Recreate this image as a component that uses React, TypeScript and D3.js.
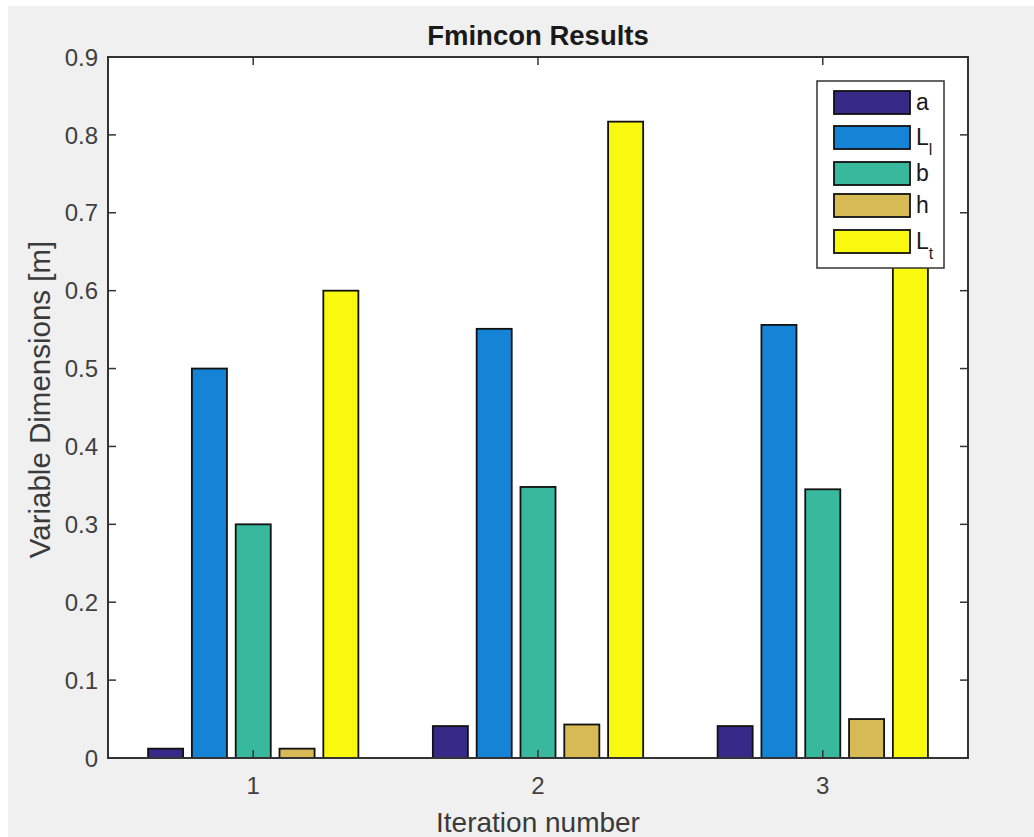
import React, { useEffect, useRef } from "react";
import * as d3 from "d3";

// Iterations (x groups)
const iterations = [1, 2, 3];

// Series names and values per iteration
const seriesNames = ["a", "L_l", "b", "h", "L_t"];
const aValues = [0.012, 0.041, 0.041];
const LlValues = [0.5, 0.551, 0.556];
const bValues = [0.3, 0.348, 0.345];
const hValues = [0.012, 0.043, 0.05];
const LtValues = [0.6, 0.817, 0.78];

const yTicks = [0, 0.1, 0.2, 0.3, 0.4, 0.5, 0.6, 0.7, 0.8, 0.9];
const xTicks = [1, 2, 3];

const seriesColors = ["#352a87", "#1584d6", "#38b89c", "#d8ba55", "#f8f90e"];

const W = 1034;
const H = 837;
const FONT = "'Liberation Sans', Arial, Helvetica, sans-serif";
const AX = "#333333";

export default function App() {
  const ref = useRef<SVGSVGElement | null>(null);

  useEffect(() => {
    const svg = d3.select(ref.current);
    svg.selectAll("*").remove();

    const left = 108;
    const right = 968;
    const top = 57;
    const bottom = 758;

    // figure background
    svg.append("rect").attr("width", W).attr("height", H).attr("fill", "#ffffff");
    svg.append("rect").attr("x", 8).attr("y", 6).attr("width", W - 8).attr("height", H - 6).attr("fill", "#f0f0f0");

    const x = d3.scaleLinear().domain([0.49, 3.51]).range([left, right]);
    const y = d3.scaleLinear().domain([0, 0.9]).range([bottom, top]);

    svg.append("rect")
      .attr("x", left).attr("y", top)
      .attr("width", right - left).attr("height", bottom - top)
      .attr("fill", "#ffffff");

    const allSeries = [aValues, LlValues, bValues, hValues, LtValues];
    const nSeries = allSeries.length;
    const groupWidth = Math.min(0.8, nSeries / (nSeries + 1.5));
    const slot = groupWidth / nSeries;
    const barW = slot * 0.8;

    const bars = svg.append("g");
    allSeries.forEach((vals, si) => {
      const offset = (si - (nSeries - 1) / 2) * slot;
      vals.forEach((v, gi) => {
        const cx = iterations[gi] + offset;
        bars.append("rect")
          .attr("x", x(cx - barW / 2))
          .attr("y", y(v))
          .attr("width", x(cx + barW / 2) - x(cx - barW / 2))
          .attr("height", y(0) - y(v))
          .attr("fill", seriesColors[si])
          .attr("stroke", "#111")
          .attr("stroke-width", 1.8);
      });
    });

    // axes box
    const axis = svg.append("g");
    axis.append("rect")
      .attr("x", left).attr("y", top)
      .attr("width", right - left).attr("height", bottom - top)
      .attr("fill", "none").attr("stroke", AX).attr("stroke-width", 2);

    const tl = 8;
    yTicks.forEach((t) => {
      const yy = y(t);
      axis.append("line").attr("x1", left).attr("x2", left + tl).attr("y1", yy).attr("y2", yy)
        .attr("stroke", AX).attr("stroke-width", 1.5);
      axis.append("line").attr("x1", right).attr("x2", right - tl).attr("y1", yy).attr("y2", yy)
        .attr("stroke", AX).attr("stroke-width", 1.5);
      axis.append("text")
        .attr("x", left - 10).attr("y", yy)
        .attr("dy", "0.36em")
        .attr("text-anchor", "end")
        .attr("font-family", FONT).attr("font-size", 24)
        .attr("fill", "#404040")
        .text(t === 0 ? "0" : d3.format(".1f")(t));
    });
    xTicks.forEach((t) => {
      const xx = x(t);
      axis.append("line").attr("x1", xx).attr("x2", xx).attr("y1", bottom).attr("y2", bottom - tl)
        .attr("stroke", AX).attr("stroke-width", 1.5);
      axis.append("line").attr("x1", xx).attr("x2", xx).attr("y1", top).attr("y2", top + tl)
        .attr("stroke", AX).attr("stroke-width", 1.5);
      axis.append("text")
        .attr("x", xx).attr("y", 794)
        .attr("text-anchor", "middle")
        .attr("font-family", FONT).attr("font-size", 24)
        .attr("fill", "#404040")
        .text(String(t));
    });

    // title and axis labels
    svg.append("text")
      .attr("x", (left + right) / 2).attr("y", 45)
      .attr("text-anchor", "middle")
      .attr("font-family", FONT).attr("font-size", 27.5).attr("font-weight", "bold")
      .attr("fill", "#1a1a1a")
      .text("Fmincon Results");
    svg.append("text")
      .attr("x", (left + right) / 2).attr("y", 832)
      .attr("text-anchor", "middle")
      .attr("font-family", FONT).attr("font-size", 28)
      .attr("fill", "#3a3a3a")
      .text("Iteration number");
    svg.append("text")
      .attr("transform", `translate(50,${(top + bottom) / 2 - 8}) rotate(-90)`)
      .attr("text-anchor", "middle")
      .attr("font-family", FONT).attr("font-size", 29.5)
      .attr("fill", "#3a3a3a")
      .text("Variable Dimensions [m]");

    // legend
    const lg = svg.append("g");
    lg.append("rect")
      .attr("x", 817).attr("y", 81).attr("width", 127).attr("height", 187)
      .attr("fill", "#ffffff").attr("stroke", AX).attr("stroke-width", 1.5);
    const swatchY = [91, 126, 162, 194, 230];
    seriesNames.forEach((name, i) => {
      const sy = swatchY[i];
      lg.append("rect")
        .attr("x", 834).attr("y", sy).attr("width", 76).attr("height", 23)
        .attr("fill", seriesColors[i]).attr("stroke", "#111").attr("stroke-width", 1.8);
      const parts = name.split("_");
      const t = lg.append("text")
        .attr("x", 916).attr("y", sy + 19)
        .attr("font-family", FONT).attr("font-size", 23)
        .attr("fill", "#1a1a1a");
      t.append("tspan").text(parts[0]);
      if (parts[1]) {
        t.append("tspan").attr("dy", 10).attr("font-size", 16).text(parts[1]);
      }
    });
  }, []);

  return (
    <svg
      ref={ref}
      width={W}
      height={H}
      style={{ position: "absolute", left: 0, top: 0, display: "block" }}
    />
  );
}
